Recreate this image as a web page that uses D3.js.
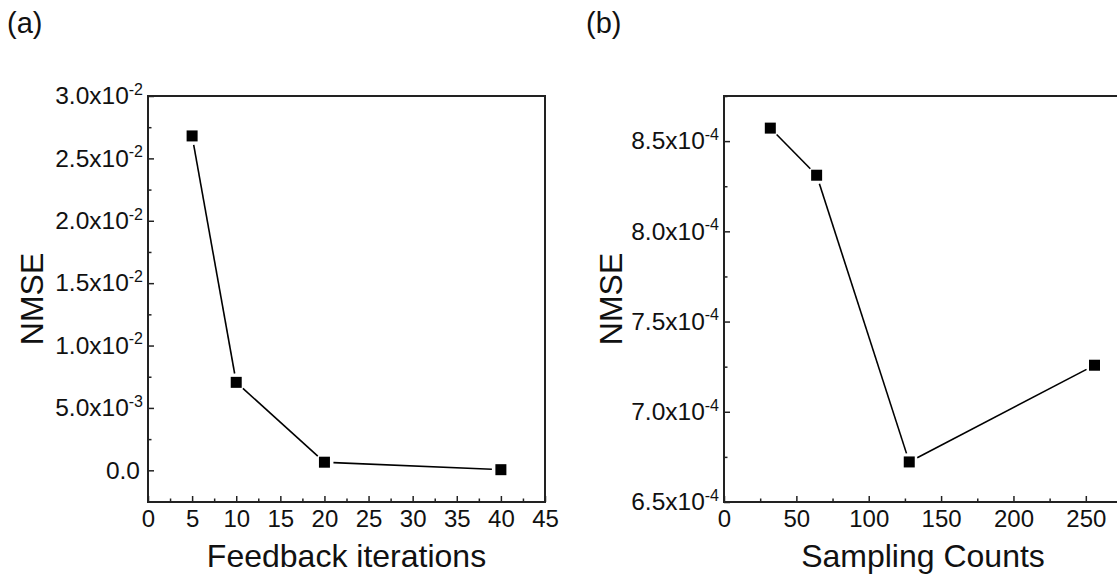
<!DOCTYPE html>
<html><head><meta charset="utf-8">
<script src="https://cdn.jsdelivr.net/npm/d3@7"></script>
<style>
body{margin:0;background:#fff;}
svg{display:block;font-family:"Liberation Sans",Arial,Helvetica,sans-serif;}
</style></head><body>
<svg id="c" width="1117" height="584"></svg>
<script>
// Panel (a)
const iterations = [5, 10, 20, 40];
const nmseA = [0.0268, 0.00705, 0.00065, 0.00005];
const xTicksA = [0,5,10,15,20,25,30,35,40,45];
const yTicksA = [0, 0.005, 0.01, 0.015, 0.02, 0.025, 0.03];
// Panel (b)
const counts = [32, 64, 128, 256];
const nmseB = [8.572e-4, 8.311e-4, 6.722e-4, 7.258e-4];
const xTicksB = [0,50,100,150,200,250];
const yTicksB = [6.5e-4, 7.0e-4, 7.5e-4, 8.0e-4, 8.5e-4];

const svg = d3.select("#c");
const FF = "'Liberation Sans',Arial,Helvetica,sans-serif";

function sciParts(v){
  if (v === 0) return null;
  const e = Math.floor(Math.log10(Math.abs(v)) + 1e-9);
  const m = v / Math.pow(10, e);
  return {m: m.toFixed(1), e: e};
}

function panel(cfg){
  const g = svg.append("g");
  const x = d3.scaleLinear().domain(cfg.xDomain).range([cfg.left, cfg.right]);
  const y = d3.scaleLinear().domain(cfg.yDomain).range([cfg.bottom, cfg.top]);

  // minor ticks (inward)
  g.append("g").attr("transform",`translate(0,${cfg.bottom})`)
    .call(d3.axisBottom(x).tickValues(cfg.xMinor).tickSize(-3.5).tickFormat(""))
    .call(s=>s.select(".domain").remove())
    .call(s=>s.selectAll("line").attr("stroke-width",1.5).attr("stroke","#222"));
  g.append("g").attr("transform",`translate(${cfg.left},0)`)
    .call(d3.axisLeft(y).tickValues(cfg.yMinor).tickSize(-3.5).tickFormat(""))
    .call(s=>s.select(".domain").remove())
    .call(s=>s.selectAll("line").attr("stroke-width",1.5).attr("stroke","#222"));

  // major x
  const gx = g.append("g").attr("transform",`translate(0,${cfg.bottom})`)
    .call(d3.axisBottom(x).tickValues(cfg.xTicks).tickSize(-6).tickPadding(8).tickFormat(d3.format("d")));
  gx.select(".domain").remove();
  gx.attr("font-size",24).attr("font-family",FF);
  gx.selectAll("line").attr("stroke-width",1.5).attr("stroke","#222");
  gx.selectAll("text").style("font-size","24px").attr("fill","#111");

  // major y with superscript exponents
  const gy = g.append("g").attr("transform",`translate(${cfg.left},0)`)
    .call(d3.axisLeft(y).tickValues(cfg.yTicks).tickSize(-6).tickPadding(5));
  gy.select(".domain").remove();
  gy.attr("font-size",24).attr("font-family",FF);
  gy.selectAll("line").attr("stroke-width",1.5).attr("stroke","#222");
  gy.selectAll("text").style("font-size","24.5px").attr("fill","#111")
    .each(function(d){
      const t = d3.select(this); t.text("");
      const p = sciParts(d);
      if (!p){ t.attr("dx",-3); t.append("tspan").text("0.0"); return; }
      t.append("tspan").text(p.m + "x10");
      t.append("tspan").style("font-size","16px").attr("dy","-0.6em").text(String(p.e));
    });

  // frame
  g.append("rect").attr("x",cfg.left).attr("y",cfg.top)
    .attr("width",cfg.right-cfg.left).attr("height",cfg.bottom-cfg.top)
    .attr("fill","none").attr("stroke","#222").attr("stroke-width",2);

  // connecting line segments, with gaps at the markers
  const pts = cfg.xs.map((v,i)=>[x(v), y(cfg.ys[i])]);
  const gap = 9;
  for (let i=0;i<pts.length-1;i++){
    const [x1,y1]=pts[i],[x2,y2]=pts[i+1];
    const L = Math.hypot(x2-x1,y2-y1);
    const ux=(x2-x1)/L, uy=(y2-y1)/L;
    g.append("line").attr("x1",x1+ux*gap).attr("y1",y1+uy*gap)
      .attr("x2",x2-ux*gap).attr("y2",y2-uy*gap)
      .attr("stroke","#000").attr("stroke-width",1.6);
  }
  const ms = 11;
  g.selectAll("rect.m").data(pts).enter().append("rect").attr("class","m")
    .attr("x",d=>d[0]-ms/2).attr("y",d=>d[1]-ms/2).attr("width",ms).attr("height",ms)
    .attr("fill","#000");

  // titles
  g.append("text").attr("x",(cfg.left+cfg.right)/2).attr("y",567)
    .attr("text-anchor","middle").attr("font-size",32).attr("fill","#111").text(cfg.xTitle);
  g.append("text").attr("transform",`translate(${cfg.yTitleX},${(cfg.top+cfg.bottom)/2}) rotate(-90)`)
    .attr("text-anchor","middle").attr("font-size",32).attr("fill","#111").text("NMSE");
  g.append("text").attr("x",cfg.labelX).attr("y",33).attr("font-size",29).attr("fill","#111").text(cfg.label);
}

panel({
  left:148, right:545, top:96, bottom:502,
  xDomain:[0,45], yDomain:[-0.00254,0.03],
  xTicks:xTicksA, yTicks:yTicksA,
  xMinor:d3.range(2.5,45,5), yMinor:[-0.0025,0.0025,0.0075,0.0125,0.0175,0.0225,0.0275],
  xs:iterations, ys:nmseA,
  xTitle:"Feedback iterations", yTitleX:43, label:"(a)", labelX:7
});
panel({
  left:724, right:1122, top:96, bottom:502,
  xDomain:[0,275], yDomain:[6.5e-4,8.75e-4],
  xTicks:xTicksB, yTicks:yTicksB,
  xMinor:d3.range(25,275,50), yMinor:[6.75e-4,7.25e-4,7.75e-4,8.25e-4,8.75e-4],
  xs:counts, ys:nmseB,
  xTitle:"Sampling Counts", yTitleX:622, label:"(b)", labelX:586
});
</script>
</body></html>
